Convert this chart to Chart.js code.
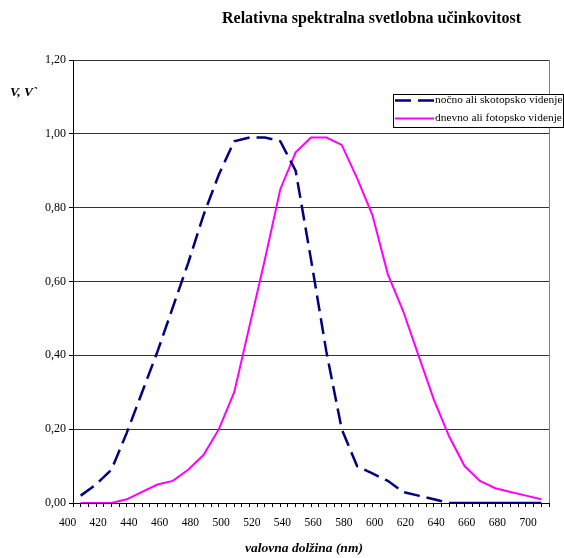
<!DOCTYPE html>
<html><head><meta charset="utf-8">
<script src="https://cdn.jsdelivr.net/npm/chart.js@4"></script>
<style>html,body{margin:0;padding:0;background:#fff}canvas{display:block}</style>
</head><body>
<canvas id="c" width="564" height="558"></canvas>
<script>
const wavelengths = [400,410,420,430,440,450,460,470,480,490,500,510,520,530,540,550,560,570,580,590,600,610,620,630,640,650,660,670,680,690,700];
const scotopic = [0.02,0.05,0.09,0.19,0.30,0.41,0.53,0.65,0.78,0.89,0.98,0.99,0.99,0.98,0.90,0.66,0.41,0.20,0.10,0.08,0.06,0.03,0.02,0.01,0,0,0,0,0,0,0];
const photopic = [0,0,0,0.01,0.03,0.05,0.06,0.09,0.13,0.20,0.30,0.48,0.66,0.85,0.95,0.99,0.99,0.97,0.88,0.78,0.62,0.52,0.40,0.28,0.18,0.10,0.06,0.04,0.03,0.02,0.01];
const xTickLabels = ['400','420','440','460','480','500','520','540','560','580','600','620','640','660','680','700'];
const yTickValues = [0,0.2,0.4,0.6,0.8,1.0,1.2];
const seriesNames = ['nočno ali skotopsko videnje','dnevno ali fotopsko videnje'];
const titleText = 'Relativna spektralna svetlobna učinkovitost';
const xTitleText = 'valovna dolžina (nm)';
const yTitleText = 'V, V`';

const SERIF = '"Liberation Serif", "Times New Roman", serif';
const X_MIN = 395, X_MAX = 705, X_STEP = 5;

const decor = {
  id: 'decor',
  beforeDatasetsDraw(chart) {
    const {ctx, chartArea: a} = chart;
    ctx.save();
    ctx.strokeStyle = '#808080';
    ctx.lineWidth = 1;
    ctx.beginPath();
    ctx.moveTo(Math.round(a.right) + 0.5, a.top);
    ctx.lineTo(Math.round(a.right) + 0.5, a.bottom);
    ctx.stroke();
    ctx.restore();
  },
  afterDraw(chart) {
    const ctx = chart.ctx;
    ctx.save();
    ctx.fillStyle = '#000';
    ctx.textBaseline = 'middle';
    ctx.textAlign = 'left';
    ctx.font = 'bold 16px ' + SERIF;
    ctx.fillText(titleText, 222, 19);
    ctx.font = 'italic bold 13.5px ' + SERIF;
    ctx.fillText(yTitleText, 10, 93);
    ctx.textAlign = 'center';
    ctx.fillText(xTitleText, 304, 549);
    // legend
    ctx.fillStyle = '#fff';
    ctx.fillRect(393.5, 94.5, 170, 33);
    ctx.strokeStyle = '#000';
    ctx.lineWidth = 1;
    ctx.strokeRect(393.5, 94.5, 170, 33);
    const rows = [100.5, 118.5];
    chart.data.datasets.forEach((ds, i) => {
      ctx.save();
      ctx.strokeStyle = ds.borderColor;
      ctx.lineWidth = ds.borderWidth;
      ctx.setLineDash(ds.borderDash || []);
      ctx.beginPath();
      ctx.moveTo(395, rows[i]);
      ctx.lineTo(434, rows[i]);
      ctx.stroke();
      ctx.restore();
      ctx.fillStyle = '#000';
      ctx.textAlign = 'left';
      ctx.font = '11.4px ' + SERIF;
      ctx.fillText(ds.label, 435, rows[i]);
    });
    ctx.restore();
  }
};

new Chart(document.getElementById('c'), {
  type: 'line',
  data: {
    datasets: [
      {
        label: seriesNames[0],
        data: wavelengths.map((w, i) => ({x: w, y: scotopic[i]})),
        borderColor: '#000080',
        borderWidth: 2.5,
        borderDash: [16, 7],
        segment: {
          borderDash: c => (c.p0.parsed.y === 0 && c.p1.parsed.y === 0) ? [] : undefined
        },
        pointRadius: 0,
        tension: 0,
        fill: false
      },
      {
        label: seriesNames[1],
        data: wavelengths.map((w, i) => ({x: w, y: photopic[i]})),
        borderColor: '#FF00FF',
        borderWidth: 2,
        pointRadius: 0,
        tension: 0,
        fill: false
      }
    ]
  },
  options: {
    responsive: false,
    animation: false,
    devicePixelRatio: 1,
    layout: {padding: {left: 0, right: 15, top: 60, bottom: 0}},
    plugins: {legend: {display: false}, title: {display: false}, tooltip: {enabled: false}},
    scales: {
      x: {
        type: 'linear',
        min: X_MIN,
        max: X_MAX,
        afterBuildTicks: s => {
          const t = [];
          for (let v = X_MIN; v <= X_MAX; v += X_STEP) t.push({value: v});
          s.ticks = t;
        },
        afterFit: s => { s.height = 55; },
        grid: {display: true, drawOnChartArea: false, drawTicks: true, tickLength: 4, tickColor: '#000', color: '#000'},
        border: {display: true, color: '#000', width: 1},
        ticks: {
          autoSkip: false, maxRotation: 0, minRotation: 0, labelOffset: -5.5, padding: 9,
          color: '#000', font: {family: SERIF, size: 11.5},
          callback: v => {
            const k = (v - X_MIN) / 20;
            return Number.isInteger(k) && k < xTickLabels.length ? xTickLabels[k] : '';
          }
        }
      },
      y: {
        min: 0,
        max: 1.2,
        afterBuildTicks: s => { s.ticks = yTickValues.map(v => ({value: v})); },
        afterFit: s => { s.width = 73; },
        grid: {color: '#333', lineWidth: 1, tickLength: 4, tickColor: '#000', drawTicks: true},
        border: {display: true, color: '#000', width: 1},
        ticks: {padding: 3, color: '#000', font: {family: SERIF, size: 12},
          callback: v => v.toFixed(2).replace('.', ',')}
      }
    }
  },
  plugins: [decor]
});
</script>
</body></html>
